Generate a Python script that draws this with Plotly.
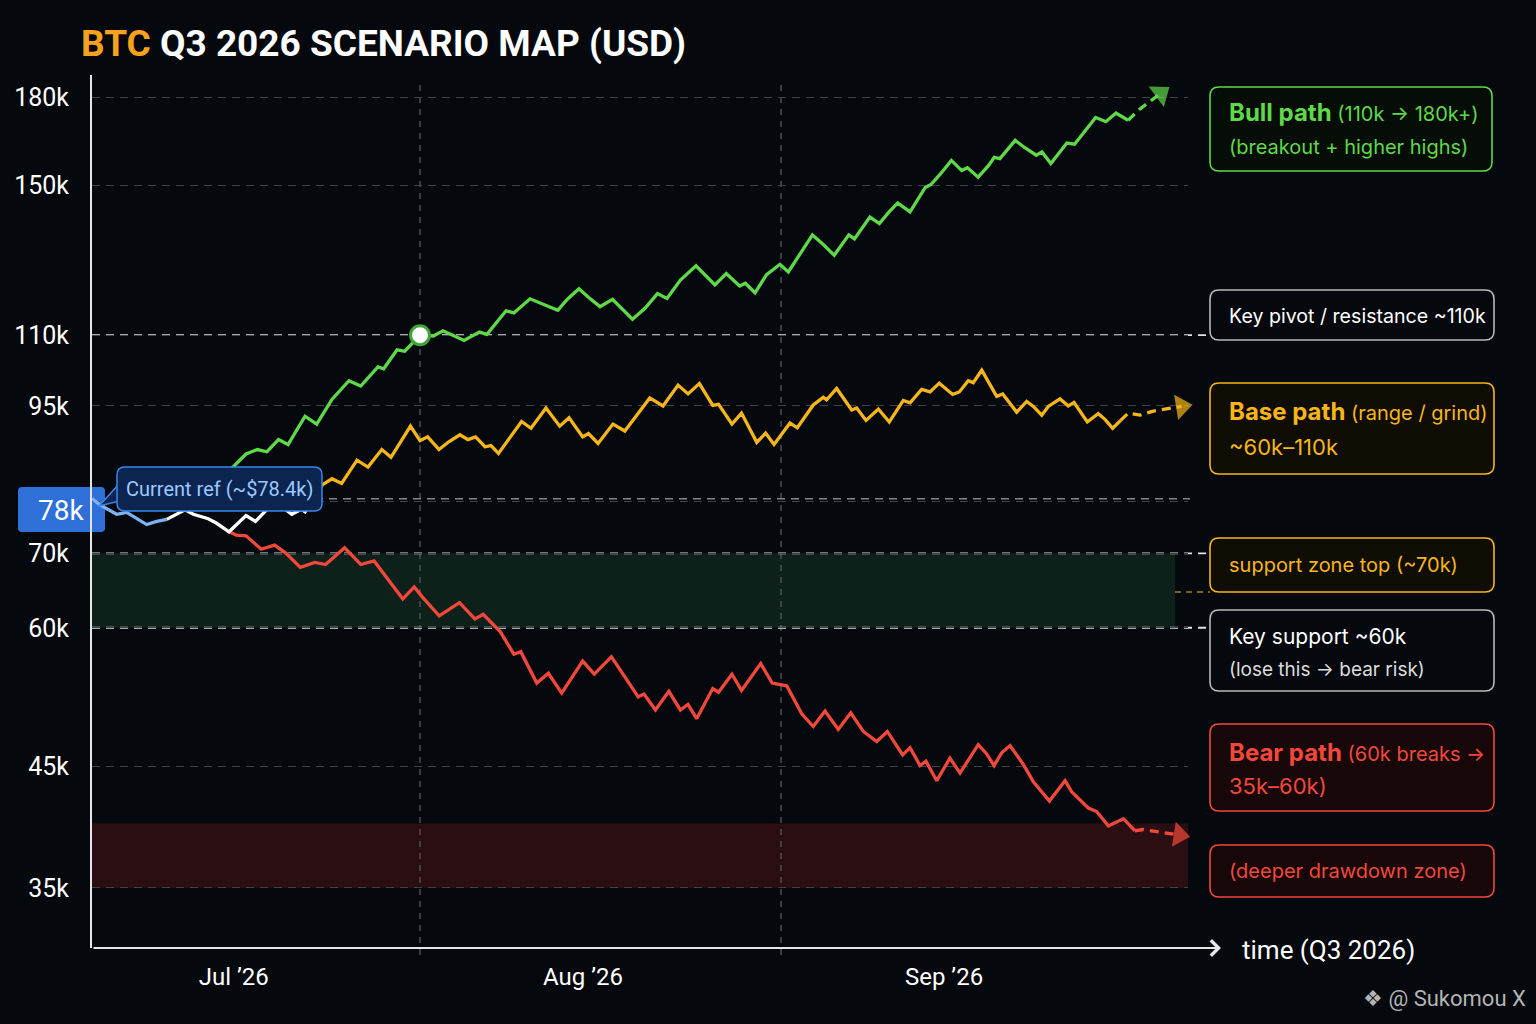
import plotly.graph_objects as go

# ---- values ----
# day = days since 1 Jul 2026, prices in thousands of USD
month_ticks = [15, 45, 76]
month_labels = ["Jul ’26", "Aug ’26", "Sep ’26"]
month_starts = [31, 62]

price_ticks = [35, 45, 60, 70, 78, 95, 110, 150, 180]
price_labels = ["35k", "45k", "60k", "70k", "", "95k", "110k", "150k", "180k"]

key_levels = [110, 70, 60]
current_ref = 78.4
pivot_day = 31
pivot_price = 110

support_zone = [60, 70]
drawdown_zone = [35, 40]

recent_day = [2.83, 3.52, 4.95, 5.81, 7.53, 8.39, 9.25]
recent_px = [78.4, 77.4, 75.9, 76.2, 74.3, 74.8, 75.1]

spot_day = [9.25, 10.82, 11.53, 12.82, 13.54, 14.6, 16.06, 16.87, 18.35, 18.98,
            19.99, 20.82, 21.13, 21.81]
spot_px = [75.1, 76.6, 75.9, 75.2, 74.5, 73.2, 75.7, 74.8, 77.6, 77.3,
           75.9, 76.7, 76.3, 78.5]

base_day = [21.81, 22.63, 23.44, 24.27, 25.59, 26.53, 27.72, 28.51, 30.18, 31.0,
            31.66, 32.63, 33.47, 34.43, 35.12, 35.77, 36.58, 37.1, 37.74, 39.72,
            40.53, 41.82, 43.0, 43.8, 44.97, 45.47, 46.29, 47.57, 48.59, 50.73,
            51.87, 53.16, 54.02, 54.99, 56.14, 56.64, 57.79, 58.61, 59.92, 60.68,
            61.4, 62.77, 63.4, 64.77, 65.63, 65.92, 66.78, 68.07, 68.5, 69.3,
            70.36, 71.3, 72.5, 73.08, 74.08, 74.8, 75.59, 76.23, 76.74, 77.31,
            78.08, 78.51, 79.24, 80.52, 81.04, 82.24, 83.1, 83.67, 84.39, 84.95,
            85.96, 86.67, 87.16, 88.3, 89.24, 89.82, 90.48, 91.17]
base_px = [78.5, 80.7, 81.7, 80.9, 84.9, 83.7, 86.8, 85.4, 91.1, 88.4,
           89.1, 86.8, 88.2, 89.5, 88.6, 89.1, 87.3, 87.5, 86.1, 92.0,
           90.7, 94.6, 91.1, 92.7, 89.1, 89.7, 87.9, 91.5, 90.2, 96.6,
           95.0, 99.2, 97.4, 99.5, 95.1, 95.3, 91.5, 93.6, 88.1, 89.8,
           87.7, 91.7, 90.8, 95.2, 96.7, 96.2, 98.5, 94.2, 94.6, 92.2,
           94.4, 91.9, 96.1, 95.6, 98.3, 97.8, 99.6, 98.4, 97.3, 97.8,
           100.1, 99.7, 102.3, 96.9, 97.4, 93.8, 95.9, 94.9, 93.2, 94.9,
           96.4, 95.0, 95.7, 91.9, 93.5, 92.4, 90.7, 92.2]
base_tail_day = [91.17, 91.82, 92.83, 93.97, 96.4]
base_tail_px = [92.2, 93.6, 93.2, 94.0, 94.9]

bull_day = [14.74, 16.06, 17.04, 17.86, 18.85, 19.67, 21.13, 22.13, 23.44, 24.9,
            25.42, 25.91, 27.39, 27.88, 29.03, 29.69, 31.0, 32.15, 32.97, 34.78,
            36.1, 36.75, 38.39, 39.06, 40.45, 41.85, 42.83, 43.66, 44.65, 45.46,
            46.46, 47.53, 48.43, 49.25, 50.32, 51.39, 52.21, 53.36, 54.7, 55.49,
            56.32, 57.3, 58.45, 58.94, 59.77, 60.76, 61.91, 62.63, 63.87, 64.7,
            65.68, 66.57, 67.82, 68.31, 69.63, 70.45, 71.28, 72.02, 73.08, 74.39,
            74.88, 75.71, 76.63, 77.52, 78.01, 78.93, 79.81, 80.31, 80.8, 82.11,
            82.94, 83.92, 84.41, 85.17, 86.55, 87.21, 89.02, 89.9, 90.76, 91.81]
bull_px = [83.3, 86.0, 86.8, 86.4, 88.6, 87.7, 93.0, 91.5, 96.3, 100.1,
           99.5, 99.0, 103.0, 102.6, 106.7, 106.4, 110.0, 109.8, 111.0, 108.8,
           110.7, 110.2, 115.7, 115.2, 118.6, 117.0, 115.8, 118.5, 121.1, 119.0,
           116.7, 118.5, 116.1, 113.7, 116.3, 119.9, 118.7, 123.3, 127.0, 124.5,
           122.1, 125.0, 121.8, 122.5, 120.1, 124.7, 127.4, 125.4, 131.3, 135.4,
           132.6, 129.8, 135.4, 134.3, 140.5, 138.6, 142.0, 144.7, 142.0, 149.4,
           150.3, 153.7, 158.0, 154.7, 155.6, 152.6, 156.3, 159.0, 158.6, 164.7,
           162.2, 159.7, 160.8, 157.0, 163.8, 163.4, 172.7, 171.2, 174.3, 171.7]
bull_tail_day = [91.81, 92.8, 94.6]
bull_tail_px = [171.7, 175.7, 181.5]

bear_day = [14.6, 15.23, 16.06, 17.36, 18.51, 19.5, 20.72, 21.97, 22.89, 24.53,
            25.91, 27.06, 28.21, 29.52, 30.51, 31.17, 32.65, 33.47, 34.39, 35.71,
            36.43, 37.9, 39.06, 39.65, 41.03, 42.02, 43.17, 44.97, 45.96, 47.44,
            48.59, 49.74, 50.23, 51.22, 52.37, 53.36, 54.01, 54.76, 56.14, 56.64,
            57.79, 58.61, 60.26, 61.24, 62.49, 63.78, 64.77, 65.78, 66.92, 67.99,
            69.07, 70.22, 71.13, 72.45, 73.08, 73.94, 74.45, 75.37, 76.51, 77.37,
            78.94, 79.66, 80.29, 80.95, 81.67, 82.81, 83.67, 85.05, 86.39, 86.97,
            88.39, 89.11, 90.11, 91.4, 92.4]
bear_px = [73.2, 72.7, 72.6, 70.6, 71.2, 70.0, 68.0, 68.7, 68.4, 70.8,
           68.4, 68.9, 66.4, 63.7, 65.3, 64.0, 61.5, 62.3, 63.2, 61.1,
           61.7, 59.5, 56.8, 57.1, 53.5, 54.6, 52.4, 56.0, 54.5, 56.5,
           54.2, 52.0, 52.3, 50.6, 52.6, 50.6, 51.2, 49.7, 52.9, 52.5,
           54.5, 52.7, 55.7, 53.5, 53.2, 50.2, 48.9, 50.5, 48.6, 50.3,
           48.4, 47.4, 48.4, 46.1, 46.8, 45.1, 45.5, 43.7, 45.8, 44.4,
           47.1, 46.2, 45.1, 46.3, 47.0, 45.2, 43.6, 41.9, 43.7, 42.7,
           41.3, 41.0, 39.8, 40.4, 39.4]
bear_tail_day = [92.4, 93.11, 96.2]
bear_tail_px = [39.4, 39.5, 39.05]

# ---- colours ----
BG = "#05080d"
GREEN = "#5fd84a"
YELLOW = "#f6b619"
RED = "#f1483b"
BLUE = "#3a86e8"
GRID = "#3d4249"

# plot area in page pixels, used to place the side boxes
PL, PR, PT, PB = 92, 1188, 75, 948
W, H = PR - PL, PB - PT


def px_x(p):
    return (p - PL) / W


def px_y(p):
    return (PB - p) / H


def box_path(x0, y0, x1, y1, r=9):
    def P(x, y):
        return f"{px_x(x):.5f},{px_y(y):.5f}"
    return (f"M{P(x0 + r, y0)} L{P(x1 - r, y0)} Q{P(x1, y0)} {P(x1, y0 + r)} "
            f"L{P(x1, y1 - r)} Q{P(x1, y1)} {P(x1 - r, y1)} L{P(x0 + r, y1)} "
            f"Q{P(x0, y1)} {P(x0, y1 - r)} L{P(x0, y0 + r)} Q{P(x0, y0)} {P(x0 + r, y0)} Z")


fig = go.Figure()

# scenario paths
def add_path(xs, ys, color, dash="solid", width=3.3):
    fig.add_trace(go.Scatter(x=xs, y=ys, mode="lines", hoverinfo="skip",
                             line=dict(color=color, width=width, dash=dash)))


def add_arrow_head(xs, ys, color):
    fig.add_trace(go.Scatter(x=xs[-2:], y=ys[-2:], mode="markers", hoverinfo="skip",
                             cliponaxis=False,
                             marker=dict(symbol="triangle-up", size=[0, 22], angleref="previous",
                                         color=color, line=dict(width=0))))


add_path(bear_day, bear_px, RED)
add_path(bear_tail_day, bear_tail_px, RED, dash="9px,6px")
add_arrow_head(bear_tail_day, bear_tail_px, RED)

add_path(base_day, base_px, YELLOW)
add_path(base_tail_day, base_tail_px, YELLOW, dash="9px,6px")
add_arrow_head(base_tail_day, base_tail_px, YELLOW)

add_path(bull_day, bull_px, GREEN)
add_path(bull_tail_day, bull_tail_px, GREEN, dash="9px,6px")
add_arrow_head(bull_tail_day, bull_tail_px, GREEN)

add_path(spot_day, spot_px, "#ffffff")
add_path(recent_day, recent_px, "#7db4ef")

# markers
fig.add_trace(go.Scatter(x=[recent_day[0]], y=[current_ref], mode="markers", cliponaxis=False,
                         hoverinfo="skip",
                         marker=dict(size=17, color="#ffffff", line=dict(color=BLUE, width=3))))
fig.add_trace(go.Scatter(x=[pivot_day], y=[pivot_price], mode="markers", cliponaxis=False,
                         hoverinfo="skip",
                         marker=dict(size=19, color="#ffffff", line=dict(color="#3fa535", width=3))))

shapes = []
# zones
shapes.append(dict(type="rect", xref="paper", yref="y", x0=0, x1=px_x(1175),
                   y0=support_zone[0], y1=support_zone[1], fillcolor="#0d2019",
                   line=dict(width=0), layer="below"))
shapes.append(dict(type="rect", xref="paper", yref="y", x0=0, x1=1,
                   y0=drawdown_zone[0], y1=drawdown_zone[1], fillcolor="#2a0e12",
                   line=dict(width=0), layer="below"))
# month separators
for d in month_starts:
    shapes.append(dict(type="line", xref="x", yref="paper", x0=d, x1=d, y0=-0.008, y1=0.99,
                       line=dict(color="#5a5f66", width=1.2, dash="6px,6px"), layer="between"))
# key levels
for lvl in key_levels:
    shapes.append(dict(type="line", xref="paper", yref="y", x0=0, x1=px_x(1210), y0=lvl, y1=lvl,
                       line=dict(color="#e2e2e2", width=1.8, dash="8px,6px"), layer="between"))
shapes.append(dict(type="line", xref="paper", yref="y", x0=px_x(105), x1=px_x(1190),
                   y0=current_ref, y1=current_ref,
                   line=dict(color="#80858c", width=1.5, dash="8px,6px"), layer="between"))
shapes.append(dict(type="line", xref="paper", yref="paper", x0=px_x(1175), x1=px_x(1210),
                   y0=px_y(592), y1=px_y(592),
                   line=dict(color=YELLOW, width=1.2, dash="6px,5px"), layer="below"))

# 78k value label and current-ref callout
shapes.append(dict(type="path", xref="paper", yref="paper", path=box_path(18, 487, 105, 532, 4),
                   fillcolor="#2e6fd8", line=dict(width=0), layer="below"))
shapes.append(dict(type="path", xref="paper", yref="paper",
                   path=f"M{px_x(99):.5f},{px_y(506):.5f} L{px_x(121):.5f},{px_y(482):.5f} "
                        f"L{px_x(124):.5f},{px_y(500):.5f} Z",
                   fillcolor="#0b2550", line=dict(color=BLUE, width=1.5), layer="above"))
shapes.append(dict(type="path", xref="paper", yref="paper", path=box_path(117, 467, 322, 511, 8),
                   fillcolor="#0b2550", line=dict(color=BLUE, width=1.5), layer="above"))

# side boxes
boxes = [
    ((1210, 87, 1492, 171), GREEN, "#060d07"),
    ((1210, 290, 1494, 340), "#b8b8b8", "#05080d"),
    ((1210, 383, 1494, 474), YELLOW, "#0f0c03"),
    ((1210, 538, 1494, 592), YELLOW, "#0f0c03"),
    ((1210, 610, 1494, 691), "#b8b8b8", "#05080d"),
    ((1210, 724, 1494, 811), RED, "#180708"),
    ((1210, 845, 1494, 897), RED, "#180708"),
]
for (x0, y0, x1, y1), edge, fill in boxes:
    shapes.append(dict(type="path", xref="paper", yref="paper", path=box_path(x0, y0, x1, y1),
                       fillcolor=fill, line=dict(color=edge, width=1.6), layer="above"))

annotations = []


def add_text(x, y, text, size, color, family="Inter", xanchor="left"):
    annotations.append(dict(xref="paper", yref="paper", x=px_x(x), y=px_y(y), text=text,
                            showarrow=False, xanchor=xanchor, yanchor="middle",
                            font=dict(family=family, size=size, color=color)))


sm = "<span style='font-size:20px'>"
add_text(1227, 113, f"<b>Bull path</b>{sm} (110k → 180k+)</span>", 24, GREEN)
add_text(1227, 147, "(breakout + higher highs)", 20, GREEN)
add_text(1227, 316, "Key pivot / resistance ~110k", 19.6, "#ffffff")
add_text(1227, 412, f"<b>Base path</b>{sm} (range / grind)</span>", 24, YELLOW)
add_text(1227, 447, "~60k–110k", 22, YELLOW)
add_text(1227, 565, "support zone top (~70k)", 20, YELLOW)
add_text(1227, 636, "Key support ~60k", 21, "#ffffff")
add_text(1227, 669, "(lose this → bear risk)", 19, "#dcdcdc")
add_text(1227, 752, f"<b>Bear path</b>{sm} (60k breaks →</span>", 24, RED)
add_text(1227, 786, "35k–60k)", 22, RED)
add_text(1227, 871, "(deeper drawdown zone)", 20, RED)

add_text(219, 489, "Current ref (~$78.4k)", 20, "#9cc9ff", family="Roboto", xanchor="center")
add_text(61, 510, "78k", 28, "#ffffff", family="Roboto", xanchor="center")

add_text(79, 44, "<b><span style='color:#f7a21b'>BTC</span> Q3 2026 SCENARIO MAP (USD)</b>",
         37, "#ffffff", family="Roboto")
add_text(1240, 950, "time (Q3 2026)", 26, "#ffffff", family="Roboto")
add_text(1528, 998, "❖ @ Sukomou X", 22, "#b4b4b4", family="Roboto", xanchor="right")

# x axis arrow
annotations.append(dict(xref="paper", yref="paper", x=px_x(1221), y=0, axref="pixel", ayref="pixel",
                        ax=-(1221 - PL), ay=0, text="", showarrow=True, arrowhead=4,
                        arrowsize=1.5, arrowwidth=2, arrowcolor="#e6e6e6", standoff=0))

fig.update_layout(
    width=1536, height=1024,
    template="none",
    paper_bgcolor=BG, plot_bgcolor=BG,
    margin=dict(l=PL, r=1536 - PR, t=PT, b=1024 - PB, autoexpand=False),
    showlegend=False,
    hovermode=False,
    shapes=shapes,
    annotations=annotations,
    font=dict(family="Roboto", color="#ffffff"),
)
fig.update_xaxes(range=[2.834, 96.95], showgrid=False, zeroline=False, showline=False,
                 tickmode="array", tickvals=month_ticks, ticktext=month_labels, ticks="",
                 ticklabelstandoff=12, tickfont=dict(size=24, color="#ffffff"), automargin=False)
fig.update_yaxes(type="log", range=[1.490, 2.2755], showgrid=True, gridcolor=GRID, gridwidth=1,
                 griddash="8px,6px", zeroline=False, showline=True, linecolor="#e6e6e6",
                 linewidth=2, tickmode="array", tickvals=price_ticks, ticktext=price_labels,
                 ticks="", ticklabelstandoff=16, tickfont=dict(size=25, color="#ffffff"),
                 automargin=False)

fig.write_html("out.html", config={"displayModeBar": False},
               post_script="document.body.style.margin='0';document.body.style.background='" + BG + "';")
